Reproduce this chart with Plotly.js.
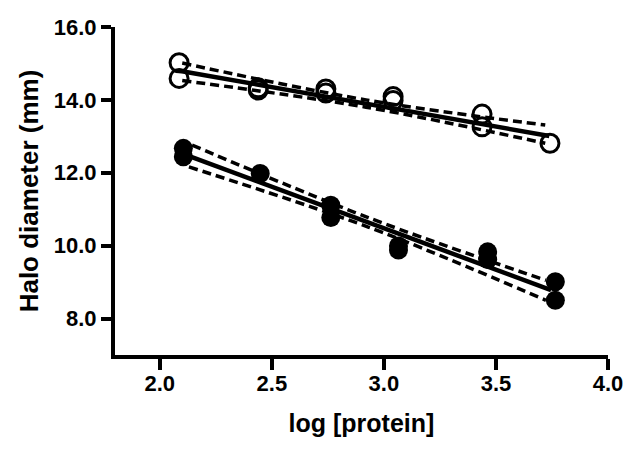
<!DOCTYPE html>
<html>
<head>
<meta charset="utf-8">
<script src="https://cdn.plot.ly/plotly-3.0.1.min.js"></script>
<style>
  html, body { margin: 0; padding: 0; background: #fff; }
  #chart { width: 640px; height: 457px; }
</style>
</head>
<body>
<div id="chart"></div>
<script>
// open circles (two replicates per dose)
let openX = [2.086, 2.086, 2.439, 2.439, 2.741, 2.741, 3.041, 3.041, 3.438, 3.438, 3.741];
let openY = [15.02, 14.59, 14.33, 14.27, 14.30, 14.19, 14.09, 13.98, 13.61, 13.26, 12.81];

// filled circles
let filledX = [2.105, 2.105, 2.448, 2.763, 2.763, 3.065, 3.065, 3.463, 3.463, 3.765, 3.765];
let filledY = [12.67, 12.44, 11.98, 11.11, 10.77, 9.99, 9.88, 9.83, 9.62, 9.01, 8.50];

// fitted lines and 95% bands
let openFitX = [2.086, 3.738];
let openFitY = [14.80, 13.01];
let openBandX = [2.10, 2.92, 3.72];
let openUpperY = [15.01, 14.00, 13.31];
let openLowerY = [14.53, 13.80, 12.81];

let filledFitX = [2.116, 3.746];
let filledFitY = [12.49, 8.78];
let filledUpperX = [2.144, 2.93, 3.723];
let filledUpperY = [12.76, 10.77, 9.05];
let filledLowerX = [2.13, 2.93, 3.723];
let filledLowerY = [12.16, 10.51, 8.50];

let xTicks = [2.0, 2.5, 3.0, 3.5, 4.0];
let yTicks = [8, 10, 12, 14, 16];

let dashed = {color: 'black', width: 3.5, dash: '9px,5px', shape: 'spline'};
let solid = {color: 'black', width: 4.5};

let lineTrace = function(x, y, line) {
  return {x: x, y: y, mode: 'lines', line: line, hoverinfo: 'skip'};
};

let data = [
  lineTrace(openBandX, openUpperY, dashed),
  lineTrace(openBandX, openLowerY, dashed),
  lineTrace(openFitX, openFitY, solid),
  lineTrace(filledUpperX, filledUpperY, dashed),
  lineTrace(filledLowerX, filledLowerY, dashed),
  lineTrace(filledFitX, filledFitY, solid),
  {
    x: openX, y: openY, mode: 'markers',
    marker: {symbol: 'circle-open', size: 18, color: 'black', line: {width: 3, color: 'black'}}
  },
  {
    x: filledX, y: filledY, mode: 'markers',
    marker: {symbol: 'circle', size: 19, color: 'black'}
  }
];

let fontName = 'Liberation Sans, Arial, sans-serif';
let tickFont = {family: fontName, size: 22, color: 'black', weight: 'bold'};

let layout = {
  width: 640,
  height: 457,
  margin: {l: 115, r: 32, t: 27, b: 102},
  paper_bgcolor: 'white',
  plot_bgcolor: 'white',
  showlegend: false,
  xaxis: {
    range: [1.8, 4.0],
    tickvals: xTicks,
    tickformat: '.1f',
    ticks: 'outside', ticklen: 11, tickwidth: 4, tickcolor: 'black',
    ticklabelstandoff: -5,
    showline: true, linewidth: 4, linecolor: 'black',
    showgrid: false, zeroline: false,
    tickfont: tickFont,
    title: {text: 'log [protein]', standoff: 20,
      font: {family: fontName, size: 25, color: 'black', weight: 'bold'}}
  },
  yaxis: {
    range: [7, 16],
    tickvals: yTicks,
    tickformat: '.1f',
    ticks: 'outside', ticklen: 10, tickwidth: 4, tickcolor: 'black',
    showline: true, linewidth: 4, linecolor: 'black',
    showgrid: false, zeroline: false,
    tickfont: tickFont,
    title: {text: 'Halo diameter (mm)', standoff: 9,
      font: {family: fontName, size: 26, color: 'black', weight: 'bold'}}
  }
};

Plotly.newPlot('chart', data, layout, {displayModeBar: false, staticPlot: true});
</script>
</body>
</html>
